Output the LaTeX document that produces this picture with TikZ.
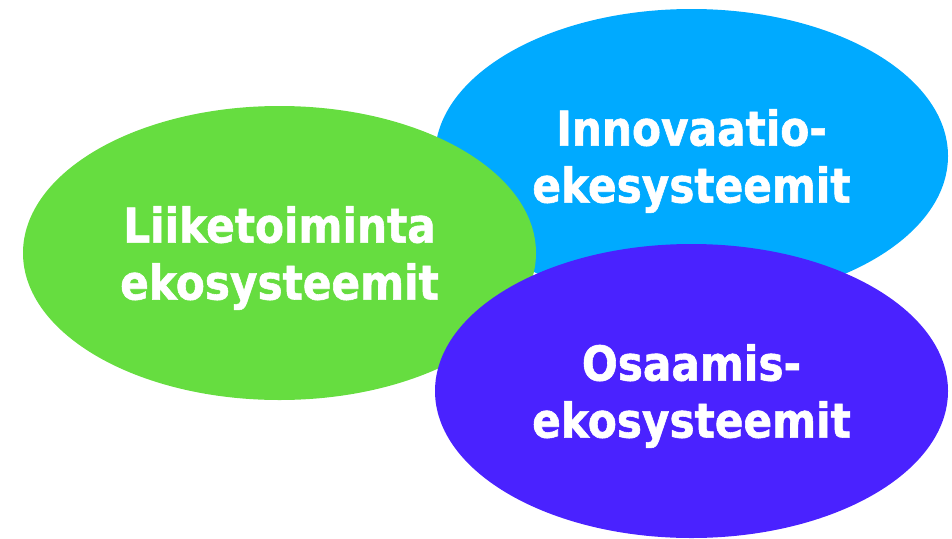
\documentclass[tikz,border=0pt]{standalone}
\usepackage{fontspec}
\setmainfont{DejaVu Sans}[FakeStretch=0.88, BoldFeatures={FakeBold=1.2}]
\usetikzlibrary{shapes.geometric}
\definecolor{ecogreen}{RGB}{102,221,64}
\definecolor{ecocyan}{RGB}{0,170,255}
\definecolor{ecopurple}{RGB}{74,34,255}
\tikzset{
  eco/.style={ellipse, minimum width=513pt, minimum height=294pt, inner sep=0pt},
  ecotext/.style={text=white, align=center, inner sep=0pt, yshift=-5pt,
    font=\fontsize{48pt}{57pt}\selectfont\bfseries}
}
\begin{document}
\begin{tikzpicture}[x=1pt,y=-1pt]
\useasboundingbox (0,0) rectangle (952,538);
\node[eco, fill=ecocyan] (innov) at (691.5,156) {};
\node[ecotext] (innovt) at (innov.center) {Innovaatio-\\ekesysteemit};
\node[eco, fill=ecogreen] (liike) at (279.5,253) {};
\node[ecotext] (liiket) at (liike.center) {Liiketoiminta\\ekosysteemit};
\node[eco, fill=ecopurple] (osaam) at (691.5,391) {};
\node[ecotext] (osaamt) at (osaam.center) {Osaamis-\\ekosysteemit};
\end{tikzpicture}
\end{document}
